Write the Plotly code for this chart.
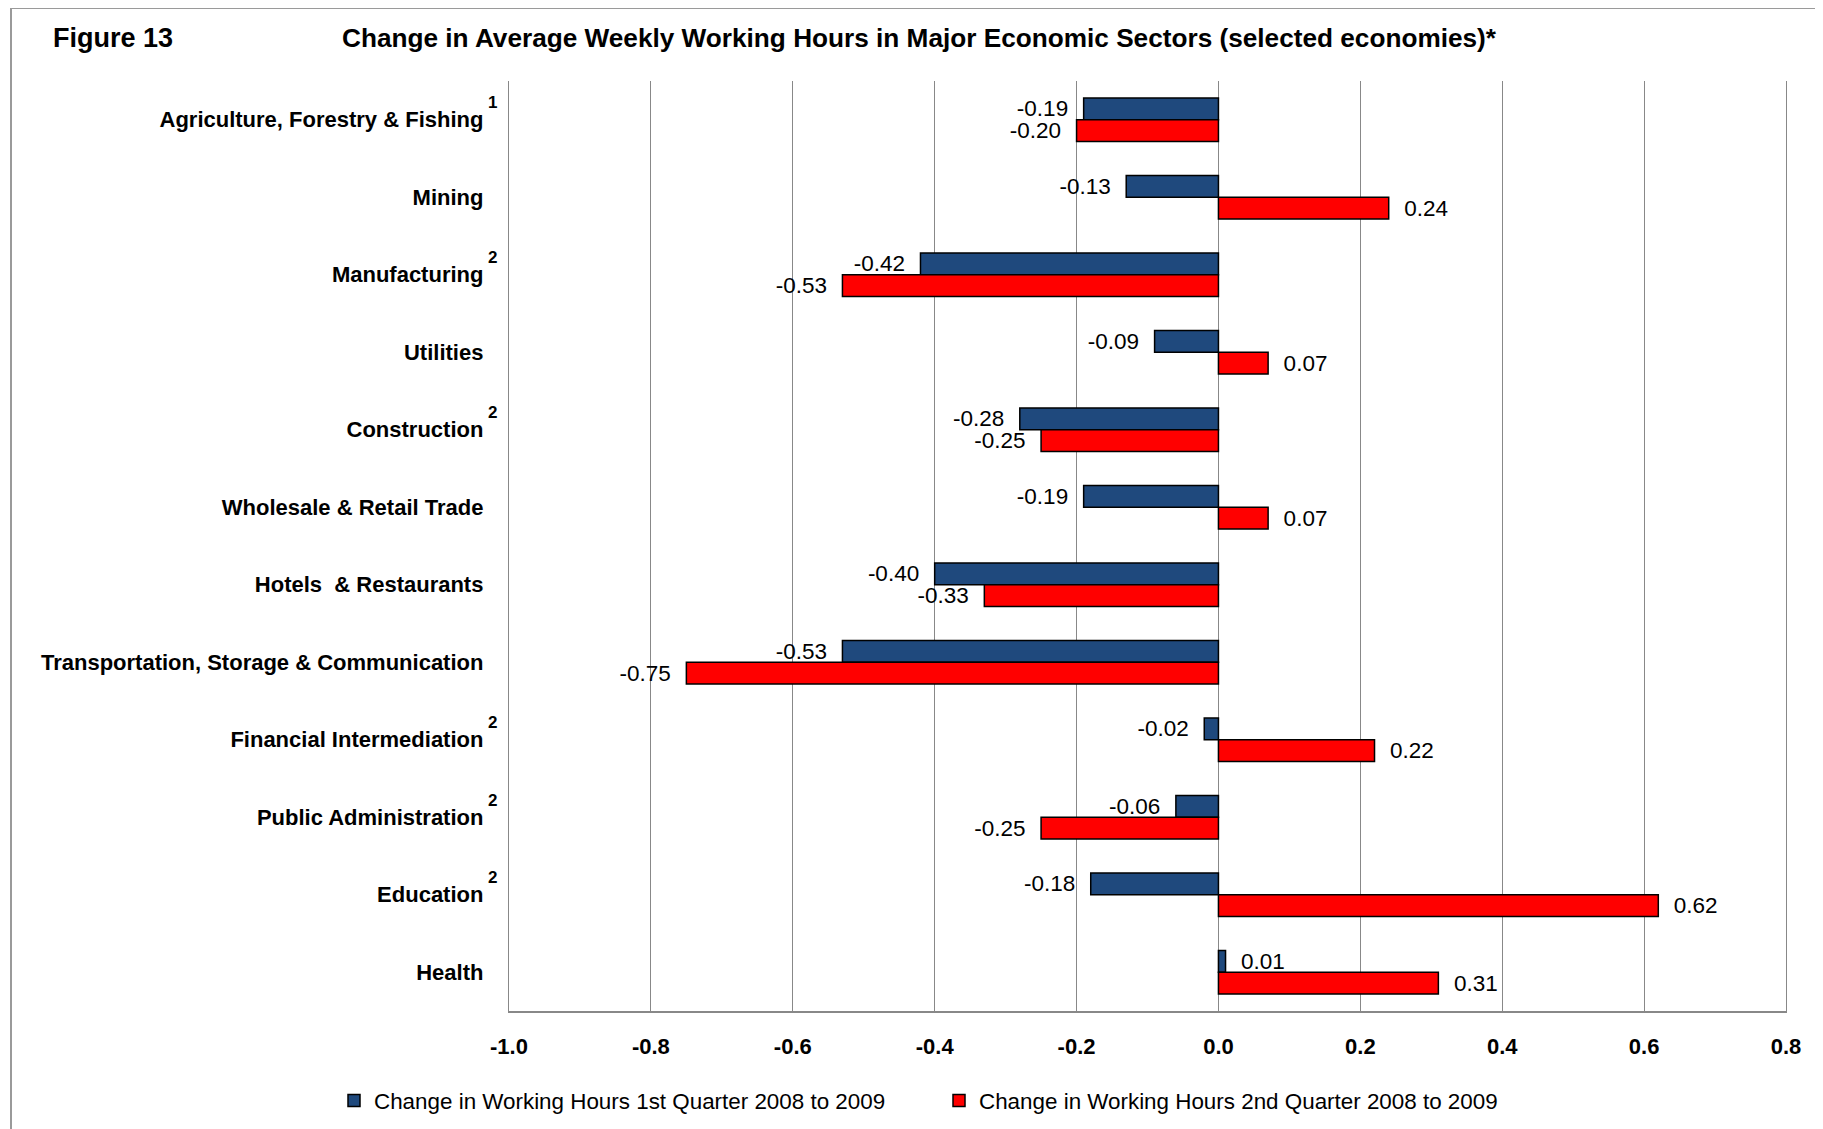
import plotly.graph_objects as go

# ---------------- data ----------------
categories = [
    "Agriculture, Forestry & Fishing",
    "Mining",
    "Manufacturing",
    "Utilities",
    "Construction",
    "Wholesale & Retail Trade",
    "Hotels  & Restaurants",
    "Transportation, Storage & Communication",
    "Financial Intermediation",
    "Public Administration",
    "Education",
    "Health",
]
footnote_marks = ["1", "", "2", "", "2", "", "", "", "2", "2", "2", ""]

q1_values = [-0.19, -0.13, -0.42, -0.09, -0.28, -0.19, -0.40, -0.53, -0.02, -0.06, -0.18, 0.01]
q2_values = [-0.20, 0.24, -0.53, 0.07, -0.25, 0.07, -0.33, -0.75, 0.22, -0.25, 0.62, 0.31]

series_names = [
    "Change in Working Hours 1st Quarter 2008 to 2009",
    "Change in Working Hours 2nd Quarter 2008 to 2009",
]

x_tick_values = [-1.0, -0.8, -0.6, -0.4, -0.2, 0.0, 0.2, 0.4, 0.6, 0.8]
x_tick_labels = ["-1.0", "-0.8", "-0.6", "-0.4", "-0.2", "0.0", "0.2", "0.4", "0.6", "0.8"]

figure_label = "Figure 13"
title_text = "Change in Average Weekly Working Hours in Major Economic Sectors (selected economies)*"

# ---------------- layout constants ----------------
OFF = 8  # page body margin
W, H = 1815, 1121
ML, MR, MT, MB = 501, 37, 73, 118
PW, PH = W - ML - MR, H - MT - MB
FONT = "Liberation Sans, Arial, Helvetica, sans-serif"
BLUE = "#1F497D"
RED = "#FF0000"
GRID = "#888888"


def px_x(sx):
    return (sx - OFF - ML) / PW


def px_y(sy):
    return (H - MB - (sy - OFF)) / PH


NB = "\u00a0\u00a0"


def label(v):
    s = f"{v:.2f}"
    return s + NB if v < 0 else NB + s


display_cats = [c.replace("  ", " \u00a0") for c in categories]

fig = go.Figure()
for name, vals, col in [(series_names[0], q1_values, BLUE), (series_names[1], q2_values, RED)]:
    fig.add_trace(go.Bar(
        y=display_cats,
        x=vals,
        orientation="h",
        name=name,
        marker=dict(color=col, line=dict(color="#000000", width=1.5)),
        text=[label(v) for v in vals],
        textposition="outside",
        constraintext="none",
        cliponaxis=False,
        textfont=dict(family=FONT, size=22.5, color="#000000"),
        hoverinfo="x+y",
    ))

annotations = [
    dict(text=figure_label, xref="paper", yref="paper", x=px_x(51), y=px_y(38),
         xanchor="left", yanchor="middle", showarrow=False,
         font=dict(family=FONT, size=27, color="#000000", weight="bold")),
    dict(text=title_text, xref="paper", yref="paper", x=px_x(340), y=px_y(38),
         xanchor="left", yanchor="middle", showarrow=False,
         font=dict(family=FONT, size=26.2, color="#000000", weight="bold")),
]
for cat, mark in zip(display_cats, footnote_marks):
    if mark:
        annotations.append(dict(
            text=mark, xref="paper", yref="y", x=0, y=cat, xshift=-17, yshift=17,
            xanchor="center", yanchor="middle", showarrow=False,
            font=dict(family=FONT, size=17, color="#000000", weight="bold")))

fig.update_layout(
    width=W, height=H,
    margin=dict(l=ML, r=MR, t=MT, b=MB, autoexpand=False),
    paper_bgcolor="#ffffff", plot_bgcolor="#ffffff",
    barmode="group", bargap=0.44, bargroupgap=0,
    font=dict(family=FONT, color="#000000"),
    showlegend=True,
    legend=dict(
        orientation="h", x=px_x(334), xanchor="left", y=px_y(1101), yanchor="middle",
        font=dict(family=FONT, size=22.4, color="#000000"),
        entrywidth=560, entrywidthmode="pixels",
        bgcolor="rgba(0,0,0,0)", traceorder="normal",
    ),
    xaxis=dict(
        range=[-1.0, 0.8], tickmode="array", tickvals=x_tick_values, ticktext=x_tick_labels,
        showgrid=True, gridcolor=GRID, gridwidth=1.3, zeroline=False,
        showline=True, linecolor=GRID, linewidth=1.5, mirror=False,
        ticks="", ticklabelstandoff=15,
        tickfont=dict(family=FONT, size=22, color="#000000", weight="bold"),
    ),
    yaxis=dict(
        type="category", categoryorder="array", categoryarray=display_cats,
        autorange="reversed", showgrid=False, zeroline=False,
        showline=True, linecolor=GRID, linewidth=1.3, mirror=True,
        ticks="", ticklabelstandoff=20,
        tickfont=dict(family=FONT, size=22, color="#000000", weight="bold"),
    ),
    annotations=annotations,
    shapes=[dict(type="rect", xref="paper", yref="paper",
                 x0=px_x(11), y0=px_y(1150), x1=px_x(1840), y1=px_y(8),
                 line=dict(color="#9a9a9a", width=2), fillcolor="rgba(0,0,0,0)", layer="below")],
)

fig.write_html("out.html")
